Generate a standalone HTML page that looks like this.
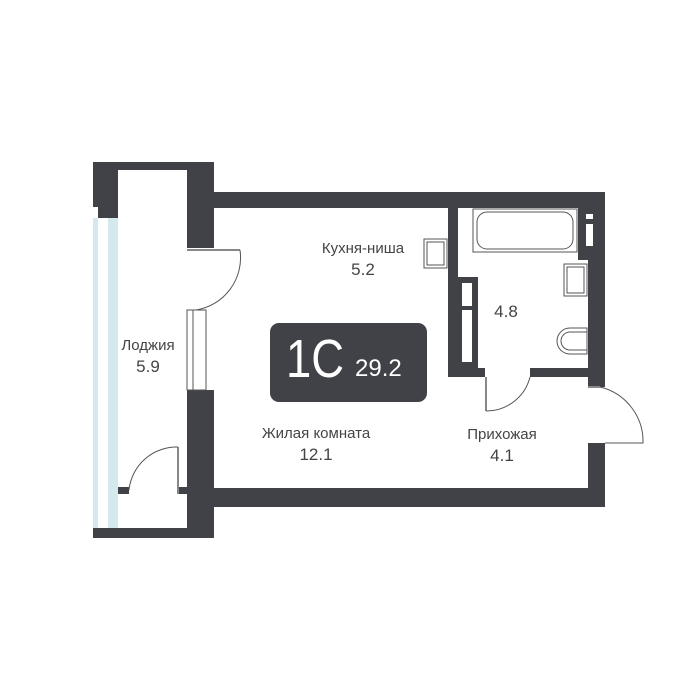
<!DOCTYPE html>
<html><head><meta charset="utf-8"><style>html,body{margin:0;padding:0;background:#fff;width:700px;height:700px;overflow:hidden}</style></head>
<body>
<svg width="700" height="700" viewBox="0 0 700 700" xmlns="http://www.w3.org/2000/svg" font-family="Liberation Sans, DejaVu Sans, sans-serif">
<g fill="#404248">
<rect x="93" y="162" width="121" height="8"/>
<rect x="93" y="162" width="25" height="45"/>
<rect x="98" y="207" width="20" height="11"/>
<rect x="187" y="162" width="27" height="86"/>
<rect x="214" y="192" width="391" height="16"/>
<rect x="588" y="192" width="17" height="195"/>
<rect x="588" y="443" width="17" height="64"/>
<rect x="187" y="488" width="418" height="19"/>
<rect x="187" y="390" width="27" height="148"/>
<rect x="93" y="528" width="121" height="10"/>
<rect x="118" y="487" width="11" height="7"/>
<rect x="177" y="487" width="10" height="7"/>
<rect x="448" y="208" width="10" height="169"/>
<rect x="448" y="277" width="30" height="100"/>
<rect x="448" y="368" width="37" height="9"/>
<rect x="530" y="368" width="58" height="9"/>
<rect x="578" y="208" width="10" height="52"/>
</g>
<rect x="93" y="218" width="5" height="310" fill="#d4e8ee"/>
<rect x="108" y="218" width="10" height="310" fill="#d4e8ee"/>
<rect x="462" y="283" width="10" height="40" fill="#fff"/>
<rect x="462" y="306" width="10" height="4" fill="#404248"/>
<rect x="462" y="318" width="10" height="44" fill="#fff"/>
<rect x="586" y="214" width="7" height="5" fill="#fff"/>
<rect x="586" y="224" width="7" height="22" fill="#fff"/>
<g fill="none" stroke="#555" stroke-width="1">
<rect x="187" y="310" width="6" height="80"/>
<rect x="193" y="310" width="13" height="80"/>
<line x1="187" y1="250" x2="240" y2="250" stroke-width="2" stroke="#888"/>
<path d="M240 250 A53 53 0 0 1 196 310"/>
<line x1="178" y1="447" x2="178" y2="494" stroke-width="2" stroke="#888"/>
<path d="M129 490 A48 48 0 0 1 178 447"/>
<line x1="486" y1="377" x2="486" y2="411" stroke-width="2" stroke="#888"/>
<path d="M486 411 A45 45 0 0 0 530 377"/>
<line x1="588" y1="387" x2="600" y2="387" stroke-width="2" stroke="#888"/>
<path d="M600 387 A56 56 0 0 1 643 443 L605 443"/>
<rect x="473" y="209" width="104" height="43"/>
<rect x="477" y="212" width="96" height="37" rx="10"/>
<rect x="424" y="239" width="23" height="29"/>
<rect x="427" y="242" width="17" height="23"/>
<rect x="564" y="264" width="23" height="32"/>
<rect x="567" y="267" width="17" height="26"/>
<path d="M587 328 L570 328 A13 13 0 0 0 570 354 L587 354 Z"/>
<path d="M587 332 L570 332 A9 9 0 0 0 570 350 L587 350"/>
</g>
<rect x="270" y="323" width="157" height="79" rx="9" fill="#404248"/>
<text x="286" y="377" font-size="54" fill="#fff" textLength="58" lengthAdjust="spacingAndGlyphs">1C</text>
<text x="355" y="376" font-size="24" fill="#fff">29.2</text>
<g fill="#444" font-size="15" text-anchor="middle">
<text x="363" y="253">Кухня-ниша</text>
<text x="363" y="275" font-size="17">5.2</text>
<text x="148" y="350">Лоджия</text>
<text x="148" y="372" font-size="17">5.9</text>
<text x="316" y="438">Жилая комната</text>
<text x="316" y="460" font-size="17">12.1</text>
<text x="502" y="439">Прихожая</text>
<text x="502" y="461" font-size="17">4.1</text>
<text x="506" y="317" font-size="17">4.8</text>
</g>
</svg>
</body></html>
